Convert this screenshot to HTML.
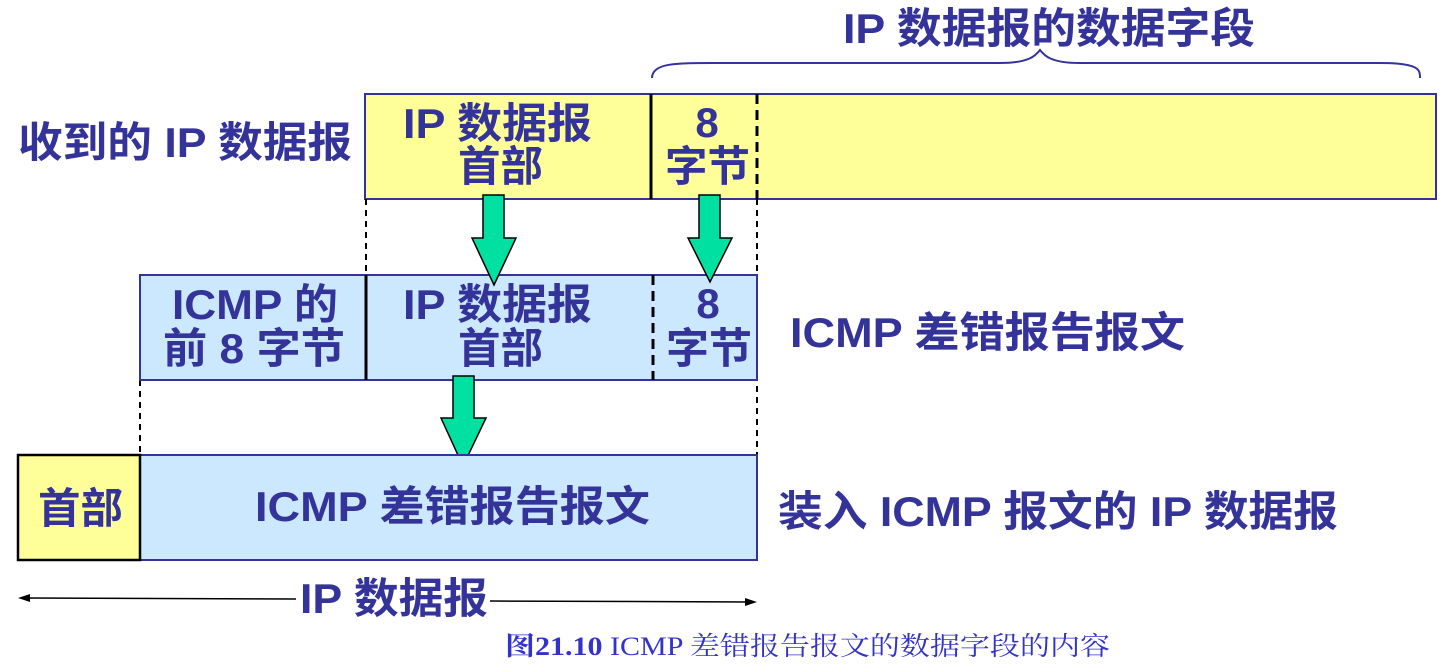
<!DOCTYPE html>
<html><head><meta charset="utf-8"><style>
html,body{margin:0;padding:0;background:#fff;width:1448px;height:669px;overflow:hidden}
svg text{font-family:"Liberation Sans","Noto Sans CJK SC",sans-serif;font-weight:bold;fill:#333399}
</style></head><body>
<svg width="1448" height="669" viewBox="0 0 1448 669" xmlns="http://www.w3.org/2000/svg">
<path d="M652,78 C652,62 680,63 720,63 L1000,63 C1030,63 1036,55 1040,50 C1044,55 1050,63 1080,63 L1380,63 C1420,63 1420,70 1420,78" fill="none" stroke="#333399" stroke-width="2"/>
<text x="843" y="43" font-size="42" textLength="412" lengthAdjust="spacingAndGlyphs">IP 数据报的数据字段</text>
<rect x="365" y="94" width="1071" height="105" fill="#ffff99" stroke="#333399" stroke-width="2"/>
<line x1="651" y1="94" x2="651" y2="199" stroke="#000" stroke-width="3"/>
<line x1="757" y1="94" x2="757" y2="199" stroke="#000" stroke-width="3" stroke-dasharray="10,6"/>
<text x="18" y="157" font-size="42" textLength="334" lengthAdjust="spacingAndGlyphs">收到的 IP 数据报</text>
<text x="403" y="138" font-size="42" textLength="189" lengthAdjust="spacingAndGlyphs">IP 数据报</text>
<text x="458" y="181" font-size="42" textLength="85" lengthAdjust="spacingAndGlyphs">首部</text>
<text x="707" y="137" font-size="42" text-anchor="middle">8</text>
<text x="665" y="181" font-size="42" textLength="85" lengthAdjust="spacingAndGlyphs">字节</text>
<line x1="366" y1="199" x2="366" y2="275" stroke="#000" stroke-width="2" stroke-dasharray="6,5"/>
<line x1="757" y1="199" x2="757" y2="455" stroke="#000" stroke-width="2" stroke-dasharray="6,5"/>
<line x1="140" y1="380" x2="140" y2="455" stroke="#000" stroke-width="2" stroke-dasharray="6,5"/>
<rect x="140" y="275" width="617" height="105" fill="#cce8ff" stroke="#333399" stroke-width="2"/>
<line x1="366" y1="275" x2="366" y2="380" stroke="#000" stroke-width="3"/>
<line x1="653" y1="275" x2="653" y2="380" stroke="#000" stroke-width="3" stroke-dasharray="10,6"/>
<text x="172" y="319" font-size="42" textLength="166" lengthAdjust="spacingAndGlyphs">ICMP 的</text>
<text x="163" y="363" font-size="42" textLength="182" lengthAdjust="spacingAndGlyphs">前 8 字节</text>
<text x="403" y="319" font-size="42" textLength="189" lengthAdjust="spacingAndGlyphs">IP 数据报</text>
<text x="458" y="363" font-size="42" textLength="85" lengthAdjust="spacingAndGlyphs">首部</text>
<text x="708" y="318" font-size="42" text-anchor="middle">8</text>
<text x="666" y="363" font-size="42" textLength="86" lengthAdjust="spacingAndGlyphs">字节</text>
<text x="790" y="347" font-size="42" textLength="395" lengthAdjust="spacingAndGlyphs">ICMP 差错报告报文</text>
<polygon points="483,195 504,195 504,238 516,238 494,285 472,238 483,238" fill="#00e0a0" stroke="#000" stroke-width="1.5"/>
<polygon points="699,195 720,195 720,238 732,238 710,282 688,238 699,238" fill="#00e0a0" stroke="#000" stroke-width="1.5"/>
<polygon points="453,376 474,376 474,418 486,418 463,466 441,418 453,418" fill="#00e0a0" stroke="#000" stroke-width="1.5"/>
<rect x="140" y="455" width="617" height="105" fill="#cce8ff" stroke="#333399" stroke-width="2"/>
<rect x="18" y="455" width="122" height="105" fill="#ffff99" stroke="#000" stroke-width="2.5"/>
<text x="38" y="523" font-size="42" textLength="85" lengthAdjust="spacingAndGlyphs">首部</text>
<text x="255" y="521" font-size="42" textLength="395" lengthAdjust="spacingAndGlyphs">ICMP 差错报告报文</text>
<text x="778" y="526" font-size="42" textLength="560" lengthAdjust="spacingAndGlyphs">装入 ICMP 报文的 IP 数据报</text>
<line x1="24" y1="598" x2="296" y2="599" stroke="#000" stroke-width="1.5"/>
<polygon points="18,598 30,594 30,602" fill="#000"/>
<line x1="490" y1="601" x2="750" y2="602" stroke="#000" stroke-width="1.5"/>
<polygon points="757,602 745,598 745,606" fill="#000"/>
<text x="300" y="613" font-size="42" textLength="188" lengthAdjust="spacingAndGlyphs">IP 数据报</text>
<text x="505" y="655" font-size="26" textLength="605" lengthAdjust="spacingAndGlyphs" style="font-family:'Liberation Serif','Noto Serif CJK SC',serif;font-weight:normal;fill:#3333cc"><tspan font-weight="bold">图21.10</tspan>  ICMP 差错报告报文的数据字段的内容</text>
</svg>
</body></html>
